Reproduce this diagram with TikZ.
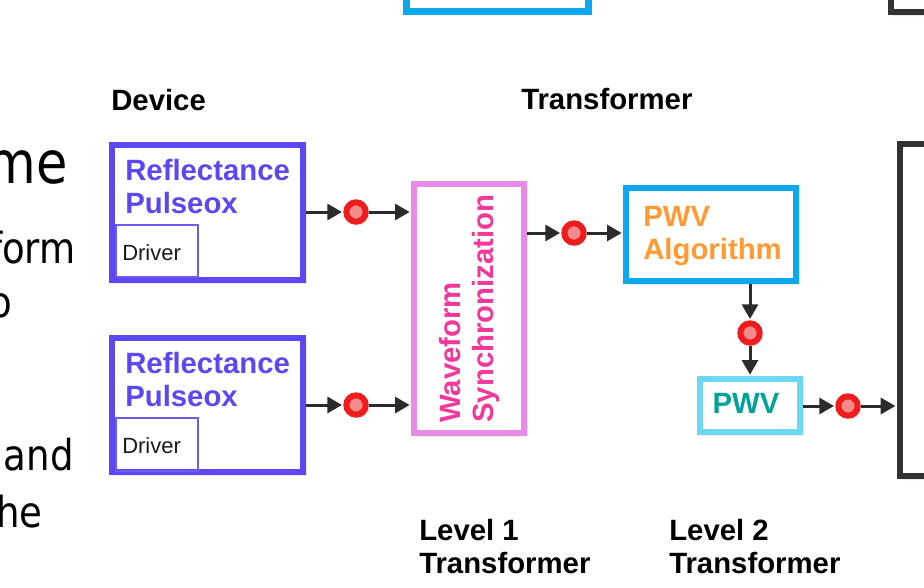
\documentclass[tikz,border=0pt]{standalone}
\usepackage{fontspec}
\setmainfont{Liberation Sans}
\newfontfamily\slidefont[FakeStretch=0.87]{DejaVu Sans}
\usetikzlibrary{arrows.meta,shadows.blur}

\definecolor{pulsecol}{HTML}{5B48F2}
\definecolor{drivercol}{HTML}{6A5CF0}
\definecolor{synccol}{HTML}{E78BE8}
\definecolor{synctext}{HTML}{F2399B}
\definecolor{algocol}{HTML}{0BA7EF}
\definecolor{algotext}{HTML}{FF9A33}
\definecolor{pwvcol}{HTML}{6DD8F3}
\definecolor{pwvtext}{HTML}{00A39B}
\definecolor{darkline}{HTML}{333333}
\definecolor{arrowcol}{HTML}{2B2B2B}
\definecolor{dotring}{HTML}{EE1C1C}
\definecolor{dotfill}{HTML}{F48A8A}
\definecolor{drivertext}{HTML}{1A1A1A}

\tikzset{
  softshadow/.style={blur shadow={shadow xshift=1.5pt, shadow yshift=-1.5pt,
      shadow blur radius=2pt, shadow opacity=40}},
  blockbox/.style={draw, fill=white, line width=4.5pt, inner sep=0pt, softshadow},
  driverbox/.style={draw=drivercol, line width=1.5pt, inner sep=0pt},
  sig/.style={draw=arrowcol, line width=2.25pt,
      -{Triangle[length=11pt,width=12pt]}, shorten >=1pt},
  dot/.style={circle, draw=dotring, fill=dotfill, line width=4.5pt,
      minimum size=14.5pt, inner sep=0pt, softshadow},
  boldtext/.style={inner sep=0pt, font=\fontsize{22}{24.75}\selectfont\bfseries, align=left},
  drivertxt/.style={inner sep=0pt, text=drivertext, font=\fontsize{16.5}{20}\selectfont},
  slidetxt/.style={inner sep=0pt, anchor=base east, font=\slidefont\fontsize{32}{38}\selectfont},
}

\begin{document}
\begin{tikzpicture}[x=0.75pt,y=-0.75pt]
  \path[use as bounding box, clip] (0,0) rectangle (924,588);

  % fragments of the slide text on the left
  \node[slidetxt, font=\slidefont\fontsize{44}{50}\selectfont] (s1) at (68,184) {me};
  \node[slidetxt] (s2) at (76,263) {form};
  \node[slidetxt] (s3) at (12,317) {o};
  \node[slidetxt] (s4) at (74,470) {and};
  \node[slidetxt] (s5) at (43,527) {he};

  % neighbouring blocks above and to the right
  \node[blockbox, draw=algocol, minimum width=136.5pt, minimum height=77.25pt, line width=5.25pt] (topblock) at (497.5,-40) {};
  \node[blockbox, draw=darkline, minimum width=163.5pt, minimum height=78pt] (topright) at (1000,-40) {};
  \node[blockbox, draw=darkline, minimum width=150pt, minimum height=249pt, line width=4.9pt] (sink) at (1000,310) {};

  % device blocks
  \node[blockbox, draw=pulsecol, minimum width=143.25pt, minimum height=101.25pt] (p1) at (207.5,212.5) {};
  \node[blockbox, draw=pulsecol, minimum width=143.25pt, minimum height=100.5pt] (p2) at (207.5,405) {};
  \node[driverbox, minimum width=61.5pt, minimum height=39pt] (d1) at (157,251) {};
  \node[driverbox, minimum width=61.5pt, minimum height=39.75pt] (d2) at (157,444.5) {};
  \node[boldtext, anchor=north west, text=pulsecol] (p1t) at (125,158.5) {Reflectance\\Pulseox};
  \node[boldtext, anchor=north west, text=pulsecol] (p2t) at (125,351.5) {Reflectance\\Pulseox};
  \node[drivertxt, anchor=base west] (d1t) at (122,260) {Driver};
  \node[drivertxt, anchor=base west] (d2t) at (122,453) {Driver};

  % transformer blocks
  \node[blockbox, draw=synccol, minimum width=82.5pt, minimum height=186.75pt] (wf) at (469,308.5) {};
  \node[boldtext, rotate=90, anchor=north west, text=synctext] (wft) at (438.5,423) {Waveform\\Synchronization};
  \node[blockbox, draw=algocol, minimum width=127.5pt, minimum height=69.75pt] (algo) at (711,234.5) {};
  \node[boldtext, anchor=north west, text=algotext] (algot) at (643,206) {PWV\\Algorithm};
  \node[blockbox, draw=pwvcol, minimum width=75pt, minimum height=39.75pt] (pwv) at (750,405.5) {};
  \node[boldtext, anchor=base, text=pwvtext] (pwvt) at (746,413) {PWV};

  % signal markers
  \node[dot] (c1) at (356,212) {};
  \node[dot] (c2) at (356,405) {};
  \node[dot] (c3) at (574,233) {};
  \node[dot] (c4) at (750,333) {};
  \node[dot] (c5) at (848,406) {};

  % connectors
  \draw[sig] (c1 -| p1.east) -- (c1);
  \draw[sig] (c1) -- (c1 -| wf.west);
  \draw[sig] (c2 -| p2.east) -- (c2);
  \draw[sig] (c2) -- (c2 -| wf.west);
  \draw[sig] (c3 -| wf.east) -- (c3);
  \draw[sig] (c3) -- (c3 -| algo.west);
  \draw[sig] (c4 |- algo.south) -- (c4);
  \draw[sig] (c4) -- (pwv.north);
  \draw[sig] (c5 -| pwv.east) -- (c5);
  \draw[sig] (c5) -- (c5 -| sink.west);

  % headings
  \node[boldtext, anchor=base west] (hdev) at (111,111) {Device};
  \node[boldtext, anchor=base west] (htr) at (521,110) {Transformer};
  \node[boldtext, anchor=north west] (lv1) at (419,519) {Level 1\\Transformer};
  \node[boldtext, anchor=north west] (lv2) at (669,519) {Level 2\\Transformer};
\end{tikzpicture}
\end{document}
